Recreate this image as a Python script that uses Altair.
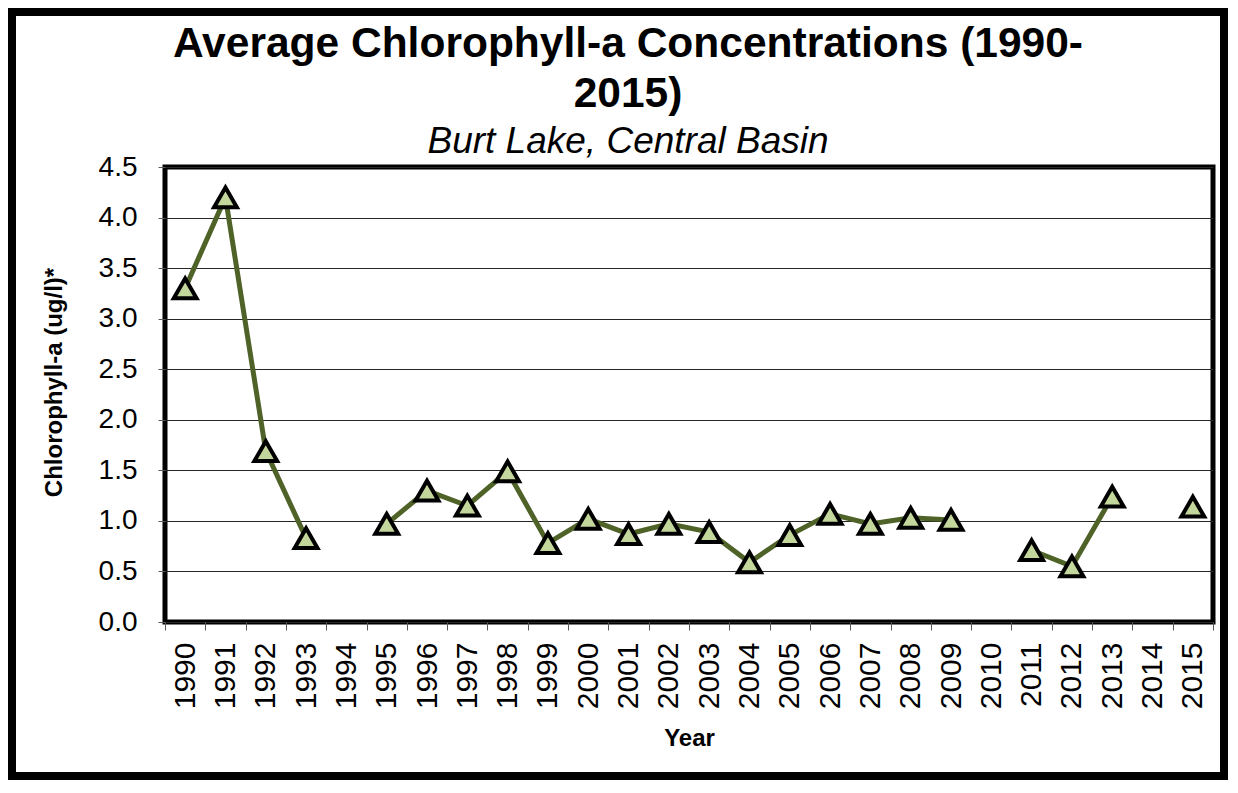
import altair as alt
import pandas as pd

# ---- data ----
years = [str(y) for y in range(1990, 2016)]
chlorophyll = [3.30, 4.20, 1.69, 0.83, None, 0.97, 1.30, 1.15, 1.49, 0.78,
               1.02, 0.87, 0.97, 0.89, 0.59, 0.86, 1.07, 0.97, 1.03, 1.01,
               None, 0.71, 0.55, 1.24, None, 1.14]
y_ticks = [0.0, 0.5, 1.0, 1.5, 2.0, 2.5, 3.0, 3.5, 4.0, 4.5]

title_lines = ["Average Chlorophyll-a Concentrations (1990-", "2015)"]
subtitle = "Burt Lake, Central Basin"
y_title = "Chlorophyll-a (ug/l)*"
x_title = "Year"

# build table; segments break the line where a year has no value
rows = []
seg = 0
for yr, v in zip(years, chlorophyll):
    if v is None:
        seg += 1
        continue
    rows.append({"Year": yr, "Chl": v, "seg": seg})
df = pd.DataFrame(rows)

FONT = "Liberation Sans"
W, H = 1048, 455
PAD = {"left": 157, "top": 159, "right": 15, "bottom": 158}

x_enc = alt.X(
    "Year:O",
    scale=alt.Scale(type="band", domain=years, paddingInner=0, paddingOuter=0),
    axis=alt.Axis(
        title=x_title,
        titleFont=FONT, titleFontSize=24, titleFontWeight="bold", titleColor="black",
        titleY=123, titleBaseline="alphabetic",
        labelAngle=270, labelAlign="right", labelBaseline="middle",
        labelFont=FONT, labelFontSize=30, labelColor="black", labelPadding=12,
        tickBand="extent", tickSize=8, tickColor="#595959", tickWidth=1,
        domain=False, grid=False,
    ),
)
y_enc = alt.Y(
    "Chl:Q",
    scale=alt.Scale(domain=[0, 4.5], nice=False, zero=True),
    axis=alt.Axis(
        title=y_title,
        titleFont=FONT, titleFontSize=24, titleFontWeight="bold", titleColor="black",
        titleAngle=270, titleX=-111, titleY=215, titleAlign="center", titleBaseline="middle",
        values=y_ticks, format=".1f",
        labelFont=FONT, labelFontSize=28, labelColor="black", labelPadding=21,
        tickSize=7, tickColor="#595959", tickWidth=1,
        grid=True, gridColor="#262626", gridWidth=1,
        domain=False,
    ),
)

base = alt.Chart(df)

line = base.mark_line(color="#4f6228", strokeWidth=5).encode(
    x=x_enc, y=y_enc, detail="seg:N"
)
points = base.mark_point(
    shape="triangle-up", filled=True, fill="#c3d69b", stroke="black",
    strokeWidth=4, size=520, opacity=1,
).encode(x=x_enc, y=y_enc)

frame = alt.Chart(pd.DataFrame({"k": [0]})).mark_rect(
    filled=False, stroke="black", strokeWidth=8
).encode(
    x=alt.value(-PAD["left"] + 4),
    x2=alt.value(W + PAD["right"] - 4),
    y=alt.value(-PAD["top"] + 4),
    y2=alt.value(H + PAD["bottom"] - 4),
)

chart = alt.layer(frame, line, points).properties(
    width=W, height=H,
    padding=PAD,
    autosize=alt.AutoSizeParams(type="none"),
    background="white",
    title=alt.TitleParams(
        text=title_lines, subtitle=subtitle,
        font=FONT, fontSize=42.5, fontWeight="bold", color="black", lineHeight=50,
        subtitleFont=FONT, subtitleFontSize=37, subtitleFontStyle="italic",
        subtitleColor="black", subtitlePadding=9,
        anchor="middle", frame="group", dx=-61, dy=158, offset=6,
    ),
).configure_view(stroke="black", strokeWidth=5)

chart.save("out.html", embed_options={"renderer": "svg", "actions": False})
